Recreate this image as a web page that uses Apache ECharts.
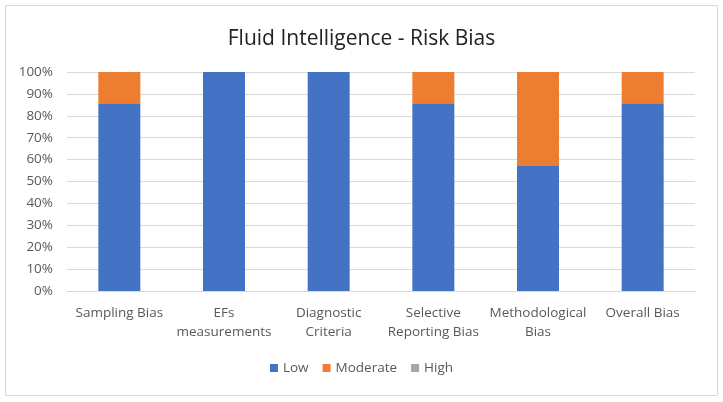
<!DOCTYPE html>
<html><head><meta charset="utf-8">
<script src="https://cdn.jsdelivr.net/npm/echarts@6/dist/echarts.min.js"></script>
<style>html,body{margin:0;padding:0;background:#fff}#c{width:723px;height:402px}</style>
</head><body><div id="c"></div>
<script>
const categories = ['Sampling Bias', 'EFs\nmeasurements', 'Diagnostic\nCriteria', 'Selective\nReporting Bias', 'Methodological\nBias', 'Overall Bias'];
const lowValues = [85.7, 100, 100, 85.7, 57.1, 85.7];
const moderateValues = [14.3, 0, 0, 14.3, 42.9, 14.3];
const highValues = [0, 0, 0, 0, 0, 0];
const yTicks = [0, 10, 20, 30, 40, 50, 60, 70, 80, 90, 100];

const chart = echarts.init(document.getElementById('c'));
const font = '"Open Sans", "Liberation Sans", sans-serif';
chart.setOption({
  animation: false,
  graphic: [{type: 'rect', shape: {x: 5.5, y: 5.5, width: 712, height: 390}, style: {fill: 'none', stroke: '#d9d9d9', lineWidth: 1}}],
  title: {text: 'Fluid Intelligence - Risk Bias', left: 'center', top: 24,
    textStyle: {fontFamily: font, fontSize: 21, fontWeight: 'normal', color: '#222'}},
  legend: {bottom: 22, left: 'center', itemWidth: 8, itemHeight: 8, itemGap: 14,
    icon: 'rect', textStyle: {fontFamily: font, fontSize: 13.5, color: '#595959'},
    data: ['Low', 'Moderate', 'High']},
  grid: {left: 67, right: 28, top: 72, bottom: 111},
  xAxis: {type: 'category', data: categories,
    axisLine: {lineStyle: {color: '#d9d9d9'}}, axisTick: {show: false},
    axisLabel: {fontFamily: font, fontSize: 13.5, color: '#595959', margin: 13, lineHeight: 19, interval: 0}},
  yAxis: {type: 'value', min: 0, max: 100, interval: 10,
    axisLabel: {fontFamily: font, fontSize: 13.5, color: '#595959', margin: 14,
      formatter: v => yTicks.includes(v) ? v + '%' : ''},
    splitLine: {lineStyle: {color: '#d9d9d9'}}, axisLine: {show: false}, axisTick: {show: false}},
  series: [
    {name: 'Low', type: 'bar', stack: 't', data: lowValues, barWidth: 42, itemStyle: {color: '#4472C4'}},
    {name: 'Moderate', type: 'bar', stack: 't', data: moderateValues, barWidth: 42, itemStyle: {color: '#ED7D31'}},
    {name: 'High', type: 'bar', stack: 't', data: highValues, barWidth: 42, itemStyle: {color: '#A5A5A5'}}
  ]
});
</script></body></html>
